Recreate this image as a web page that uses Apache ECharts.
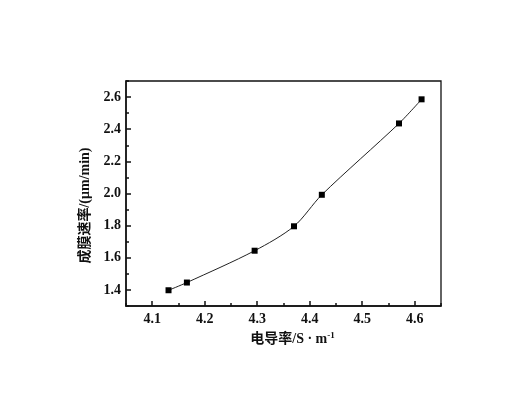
<!DOCTYPE html>
<html><head><meta charset="utf-8">
<script src="https://cdn.jsdelivr.net/npm/echarts@6/dist/echarts.min.js"></script>
<style>html,body{margin:0;padding:0;background:#fff}#c{width:517px;height:398px}</style>
</head><body><div id="c"></div>
<script>
const xValues = [4.131, 4.166, 4.295, 4.370, 4.423, 4.570, 4.613];
const yValues = [1.398, 1.446, 1.644, 1.796, 1.992, 2.436, 2.586];
const xMajorTicks = [4.1, 4.2, 4.3, 4.4, 4.5, 4.6];
const yMajorTicks = [1.4, 1.6, 1.8, 2.0, 2.2, 2.4, 2.6];
const xTitle = '电导率/S · m';
const yTitle = '成膜速率/(μm/min)';

const serif = '"Liberation Serif","Noto Sans CJK SC",serif';
const chart = echarts.init(document.getElementById('c'));
const lineStyle = {color: '#111', width: 1.5};
chart.setOption({
  animation: false,
  backgroundColor: '#fff',
  grid: {left: 126, right: 76, top: 81, bottom: 92, show: true, borderColor: '#111', borderWidth: 1.3, backgroundColor: 'transparent'},
  xAxis: [{
    type: 'value', min: 4.05, max: 4.65, interval: 0.05,
    axisLine: {show: true, lineStyle}, splitLine: {show: false},
    axisTick: {show: true, inside: true, length: 3, lineStyle},
    axisLabel: {show: true, margin: 6, color: '#111', fontFamily: serif, fontSize: 14, fontWeight: 'bold',
      formatter: v => { const k = Math.round(v * 100); return k % 10 === 0 ? (k / 100).toFixed(1) : ''; }},
    name: xTitle + '{sup|-1}', nameLocation: 'middle', nameGap: 25,
    nameTextStyle: {color: '#111', fontFamily: serif, fontSize: 14, fontWeight: 'bold', padding: [0, 0, 0, 18],
      rich: {sup: {fontSize: 9, fontWeight: 'bold', verticalAlign: 'top', padding: [0, 0, 8, 0], fontFamily: serif, color: '#111'}}}
  }, {
    type: 'value', min: 4.05, max: 4.65, position: 'bottom',
    axisLine: {show: false}, splitLine: {show: false},
    axisTick: {show: true, inside: true, length: 5, lineStyle, customValues: xMajorTicks},
    axisLabel: {show: false}
  }],
  yAxis: [{
    type: 'value', min: 1.3, max: 2.7, interval: 0.1,
    axisLine: {show: true, lineStyle}, splitLine: {show: false},
    axisTick: {show: true, inside: true, length: 3, lineStyle},
    axisLabel: {show: true, margin: 5, color: '#111', fontFamily: serif, fontSize: 14, fontWeight: 'bold',
      formatter: v => { const k = Math.round(v * 10); return k % 2 === 0 ? (k / 10).toFixed(1) : ''; }},
    name: yTitle, nameLocation: 'middle', nameGap: 28, nameRotate: 90,
    nameTextStyle: {color: '#111', fontFamily: serif, fontSize: 14, fontWeight: 'bold', padding: [0, 24, 0, 0]}
  }, {
    type: 'value', min: 1.3, max: 2.7, position: 'left',
    axisLine: {show: false}, splitLine: {show: false},
    axisTick: {show: true, inside: true, length: 5, lineStyle, customValues: yMajorTicks},
    axisLabel: {show: false}
  }],
  series: [{
    type: 'line', xAxisIndex: 0, yAxisIndex: 0,
    data: xValues.map((x, i) => [x, yValues[i]]),
    smooth: 0.3, symbol: 'rect', symbolSize: 6, showSymbol: true,
    lineStyle: {color: '#222', width: 1},
    itemStyle: {color: '#000'}
  }]
});
</script></body></html>
